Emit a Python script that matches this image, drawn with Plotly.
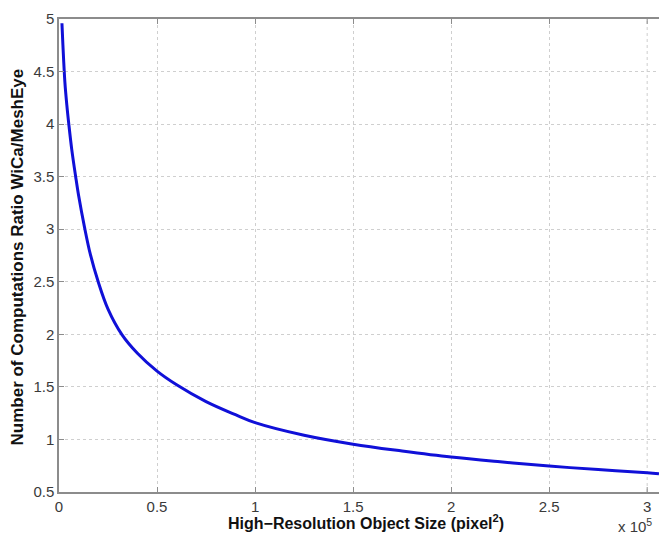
import plotly.graph_objects as go

# Object size (x 10^5 pixel^2) and computation ratio WiCa/MeshEye
size_e5 = [0.015, 0.02, 0.03, 0.04, 0.05, 0.065, 0.085, 0.1, 0.13, 0.16, 0.2, 0.25,
           0.32, 0.4, 0.5, 0.6, 0.75, 0.9, 1.0, 1.25, 1.5, 1.75, 2.0, 2.25, 2.5,
           2.75, 3.0, 3.06]
ratio = [4.96, 4.75, 4.4, 4.18, 4.0, 3.76, 3.5, 3.32, 3.02, 2.76, 2.5, 2.24,
         2.0, 1.82, 1.65, 1.52, 1.36, 1.235, 1.16, 1.04, 0.955, 0.89, 0.832, 0.787, 0.747,
         0.713, 0.683, 0.674]

x_ticks = [0, 0.5, 1, 1.5, 2, 2.5, 3]
x_labels = ["0", "0.5", "1", "1.5", "2", "2.5", "3"]
y_ticks = [0.5, 1, 1.5, 2, 2.5, 3, 3.5, 4, 4.5, 5]
y_labels = ["0.5", "1", "1.5", "2", "2.5", "3", "3.5", "4", "4.5", "5"]
X_MAX = 3.3   # the axes run past the right edge of the window, which crops them (as in the reference)

FONT = "Liberation Sans, Arial, sans-serif"
AX = "#8c8c8c"
GRID = "#cfcfcf"
TICKCOL = "#3a3a3a"
L, T, B = 59, 16, 47
PX_PER_UNIT = 196.1
PW = round(X_MAX * PX_PER_UNIT)
R = 10
W, H = L + PW + R, 539
PH = H - T - B

fig = go.Figure()
fig.add_trace(go.Scatter(
    x=size_e5, y=ratio, mode="lines",
    line=dict(color="#1010d8", width=3, shape="spline", smoothing=1.0),
    showlegend=False,
))

# Plotly drops the last x tick next to the cropped edge; draw that tick's label,
# grid line and top tick explicitly from the tick list.
last_x, last_lab = x_ticks[-1], x_labels[-1]
fig.add_shape(type="line", xref="x", yref="paper", x0=last_x, x1=last_x, y0=0, y1=1,
              line=dict(color=GRID, width=1, dash="dot"), layer="below")
fig.add_shape(type="line", xref="x", yref="paper", x0=last_x, x1=last_x, y0=0, y1=5 / PH,
              line=dict(color=AX, width=1))
fig.add_shape(type="line", xref="x", yref="paper", x0=last_x, x1=last_x, y0=1 - 5 / PH, y1=1,
              line=dict(color=AX, width=1))

fig.update_layout(
    width=W, height=H,
    margin=dict(l=L, r=R, t=T, b=B, pad=0),
    paper_bgcolor="white", plot_bgcolor="white",
    font=dict(family=FONT, size=15, color=TICKCOL),
    xaxis=dict(
        range=[0, X_MAX], tickvals=x_ticks[:-1], ticktext=x_labels[:-1],
        showline=True, linecolor=AX, linewidth=1.5, mirror="ticks",
        ticks="inside", ticklen=5, tickcolor=AX,
        showgrid=True, gridcolor=GRID, griddash="dot", gridwidth=1,
        zeroline=False, tickfont=dict(size=15, color=TICKCOL),
    ),
    yaxis=dict(
        range=[0.5, 5], tickvals=y_ticks, ticktext=y_labels,
        showline=True, linecolor=AX, linewidth=1.5, mirror=False,
        ticks="inside", ticklen=5, tickcolor=AX,
        showgrid=True, gridcolor=GRID, griddash="dot", gridwidth=1,
        zeroline=False, tickfont=dict(size=15, color=TICKCOL),
    ),
    annotations=[
        dict(text=last_lab, xref="x", yref="paper", x=last_x, y=(PH + T - 507) / PH,
             xanchor="center", yanchor="middle", showarrow=False,
             font=dict(family=FONT, size=15, color=TICKCOL)),
        dict(text="<b>High\u2212Resolution Object Size (pixel<sup>2</sup>)</b>",
             xref="paper", yref="paper", x=(366 - L) / PW, y=(PH + T - 522) / PH,
             xanchor="center", yanchor="middle", showarrow=False,
             font=dict(family=FONT, size=16, color="#111111")),
        dict(text="<b>Number of Computations Ratio WiCa/MeshEye</b>",
             xref="paper", yref="paper", x=(17 - L) / PW, y=(PH + T - 256) / PH,
             xanchor="center", yanchor="middle", showarrow=False, textangle=-90,
             font=dict(family=FONT, size=17, color="#111111")),
        dict(text="x 10<sup>5</sup>",
             xref="paper", yref="paper", x=(616 - L) / PW, y=(PH + T - 526) / PH,
             xanchor="left", yanchor="middle", showarrow=False,
             font=dict(family=FONT, size=15, color=TICKCOL)),
    ],
)

fig.write_html(
    "out.html",
    config={"displayModeBar": False},
    post_script="document.body.style.margin='0';document.body.style.overflow='hidden';",
)
